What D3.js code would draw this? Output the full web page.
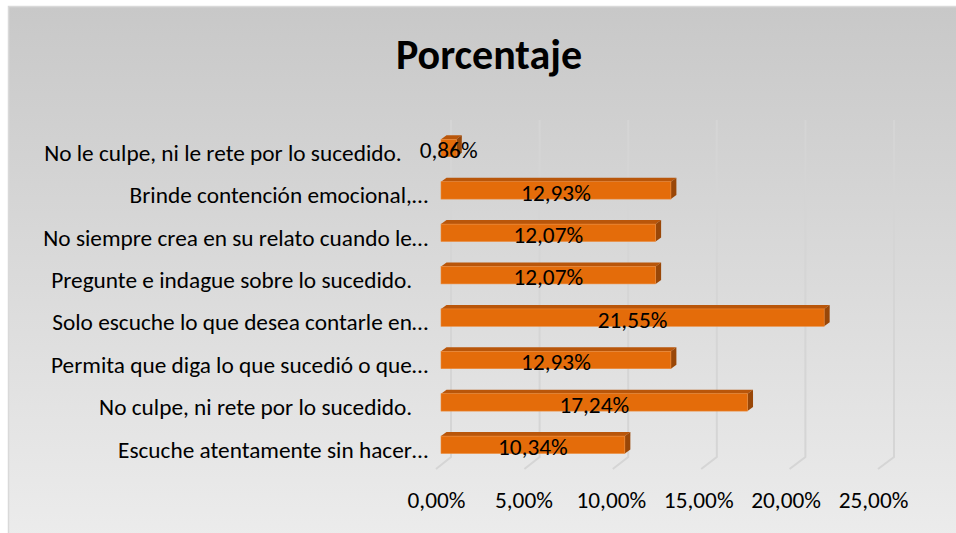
<!DOCTYPE html>
<html lang="es">
<head>
  <meta charset="UTF-8">
  <title>Porcentaje</title>
  <style>
    body { margin: 0; background: #fff; }
    text { font-family: Carlito, Calibri, Lato, sans-serif; white-space: pre; }
  </style>
</head>
<body>
  <script src="https://d3js.org/d3.v7.min.js"></script>
  <script>
    const width = 956;
    const height = 533;

    // data, top to bottom as in the chart
    const categories = [
      'No le culpe, ni le rete por lo sucedido.     ',
      'Brinde contención emocional,…',
      'No siempre crea en su relato cuando le…',
      'Pregunte e indague sobre lo sucedido.   ',
      'Solo escuche lo que desea contarle en…',
      'Permita que diga lo que sucedió o que…',
      'No culpe, ni rete por lo sucedido.   ',
      'Escuche atentamente sin hacer…'
    ];
    const values = [0.86, 12.93, 12.07, 12.07, 21.55, 12.93, 17.24, 10.34];
    const ticks = [0, 5, 10, 15, 20, 25];
    const title = 'Porcentaje';

    const ds = categories.map((name, i) => ({ name, value: values[i] }));
    const fmt = v => d3.format('.2f')(v).replace('.', ',') + '%';
    const fontSize = 23.3;

    // 3D-ish projection: bars sit in the middle, gridlines on the back wall,
    // floor edge and labels in front
    const xBar = d3.scaleLinear().domain([0, 25]).range([441, 885.5]);
    const xBack = d3.scaleLinear().domain([0, 25]).range([451, 894]);
    const xFloor = d3.scaleLinear().domain([0, 25]).range([436, 878]);
    const xLabel = d3.scaleLinear().domain([0, 25]).range([436, 873]);
    const yScale = d3.scaleBand()
      .domain(categories)
      .range([114.3, 478.5])
      .padding(0.59);

    const depth = { dx: 5.5, dy: 4 };

    const svg = d3.select('body')
      .append('svg')
      .attr('width', width)
      .attr('height', height);

    const grad = svg.append('defs')
      .append('linearGradient')
      .attr('id', 'bg')
      .attr('x1', 0).attr('y1', 0)
      .attr('x2', 0).attr('y2', 1);
    grad.append('stop').attr('offset', '0%').attr('stop-color', '#c8c8c8');
    grad.append('stop').attr('offset', '100%').attr('stop-color', '#ececec');

    svg.append('rect')
      .attr('x', 8.5)
      .attr('y', 6.5)
      .attr('width', width)
      .attr('height', height)
      .attr('fill', 'url(#bg)')
      .attr('stroke', '#d9d9d9')
      .attr('stroke-width', 1.5);

    svg.append('text')
      .attr('x', 489)
      .attr('y', 69)
      .attr('text-anchor', 'middle')
      .attr('font-size', 42)
      .attr('font-weight', 'bold')
      .attr('fill', '#000')
      .text(title);

    // gridlines: back wall + floor
    svg.append('g')
      .selectAll('path')
      .data(ticks)
      .join('path')
      .attr('d', t => `M${xBack(t)},120 L${xBack(t)},457 L${xFloor(t)},469`)
      .attr('fill', 'none')
      .attr('stroke', '#d5d5d5')
      .attr('stroke-width', 2);

    // axis labels
    const xAxis = d3.axisBottom(xLabel)
      .tickValues(ticks)
      .tickSize(0)
      .tickPadding(0)
      .tickFormat(fmt);

    const axisG = svg.append('g')
      .attr('transform', 'translate(0, 491)')
      .call(xAxis);
    axisG.select('.domain').remove();
    axisG.selectAll('text')
      .attr('font-family', null)
      .attr('font-size', fontSize)
      .attr('fill', '#000');

    // category labels
    const catG = svg.append('g')
      .attr('transform', 'translate(428, 0)')
      .call(d3.axisLeft(yScale).tickSize(0).tickPadding(0));
    catG.select('.domain').remove();
    catG.selectAll('text')
      .attr('font-family', null)
      .attr('font-size', fontSize)
      .attr('fill', '#000')
      .attr('dy', '0.55em');

    // bars
    const bars = svg.append('g')
      .selectAll('g')
      .data(ds)
      .join('g');

    bars.append('path')
      .attr('d', d => {
        const x0 = xBar(0), x1 = xBar(d.value), y0 = yScale(d.name);
        return `M${x0},${y0} L${x0 + depth.dx},${y0 - depth.dy} L${x1 + depth.dx},${y0 - depth.dy} L${x1},${y0} Z`;
      })
      .attr('fill', '#b9560a');

    bars.append('path')
      .attr('d', d => {
        const x1 = xBar(d.value), y0 = yScale(d.name), y1 = y0 + yScale.bandwidth();
        return `M${x1},${y0} L${x1 + depth.dx},${y0 - depth.dy} L${x1 + depth.dx},${y1 - depth.dy} L${x1},${y1} Z`;
      })
      .attr('fill', '#994708');

    bars.append('rect')
      .attr('x', xBar(0))
      .attr('y', d => yScale(d.name))
      .attr('width', d => xBar(d.value) - xBar(0))
      .attr('height', yScale.bandwidth())
      .attr('fill', '#e46c0a')
      .attr('stroke', '#ec8a3a')
      .attr('stroke-width', 0.6);

    bars.append('text')
      .attr('x', d => (xBar(0) + xBar(d.value)) / 2)
      .attr('y', d => yScale(d.name) + yScale.bandwidth() + 1.5)
      .attr('text-anchor', 'middle')
      .attr('font-size', fontSize)
      .attr('fill', '#000')
      .text(d => fmt(d.value));
  </script>
</body>
</html>
